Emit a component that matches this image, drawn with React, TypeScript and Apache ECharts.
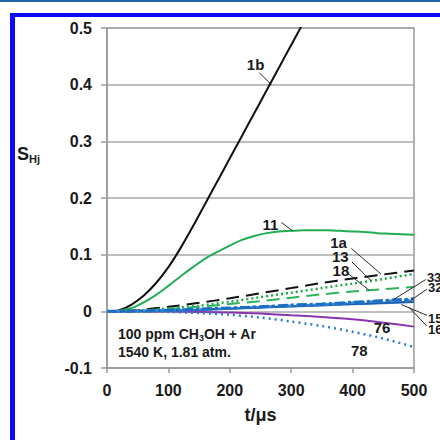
import React, { useEffect, useRef } from "react";
import * as echarts from "echarts";

// time axis (microseconds)
const T20 = [0, 20, 40, 60, 80, 100, 120, 140, 160, 180, 200, 220, 240, 260, 280, 300, 320, 340, 360, 380, 400, 420, 440, 460, 480, 500];
const T50 = [0, 50, 100, 150, 200, 250, 300, 350, 400, 450, 500];
const T1B = [0, 20, 40, 60, 80, 100, 120, 140, 160, 180, 200, 220, 240, 260, 280, 300, 320, 340];

// H-atom sensitivity coefficients
const s1b = [0, 0.002, 0.012, 0.028, 0.05, 0.078, 0.112, 0.15, 0.19, 0.23, 0.27, 0.31, 0.35, 0.39, 0.43, 0.47, 0.51, 0.55];
const s11 = [0, 0.001, 0.006, 0.016, 0.029, 0.045, 0.062, 0.078, 0.093, 0.105, 0.116, 0.126, 0.133, 0.138, 0.141, 0.142, 0.143, 0.143, 0.143, 0.142, 0.141, 0.140, 0.138, 0.137, 0.136, 0.135];
const s1a = [0, 0.002, 0.008, 0.015, 0.023, 0.032, 0.041, 0.050, 0.058, 0.065, 0.072];
const s13 = [0, 0.001, 0.005, 0.010, 0.017, 0.025, 0.033, 0.041, 0.049, 0.057, 0.066];
const s18 = [0, 0.001, 0.004, 0.008, 0.013, 0.018, 0.024, 0.030, 0.035, 0.039, 0.043];
const s33 = [0, 0.0005, 0.002, 0.004, 0.006, 0.008, 0.011, 0.013, 0.016, 0.019, 0.022];
const s32 = [0, 0.0005, 0.002, 0.003, 0.005, 0.008, 0.010, 0.012, 0.015, 0.018, 0.020];
const s15 = [0, 0.0005, 0.0015, 0.003, 0.005, 0.007, 0.009, 0.011, 0.013, 0.015, 0.017];
const s16 = [0, 0.0003, 0.001, 0.002, 0.004, 0.006, 0.008, 0.010, 0.012, 0.014, 0.016];
const s76 = [0, 0, -0.0005, -0.001, -0.002, -0.004, -0.007, -0.010, -0.014, -0.020, -0.027];
const s78 = [0, -0.0005, -0.001, -0.003, -0.006, -0.011, -0.018, -0.026, -0.036, -0.048, -0.063];

const xTicks = { min: 0, max: 500, step: 100 };
const yTicks = { min: -0.1, max: 0.5, step: 0.1 };

// curve labels: text anchor and leader line (data coordinates)
const curveLabels = [
  { text: "1b", at: [242, 0.436], align: "center", from: [248, 0.421], to: [268, 0.4] },
  { text: "11", at: [266, 0.153], align: "center", from: [284, 0.157], to: [302, 0.142] },
  { text: "1a", at: [377, 0.121], align: "center", from: [398, 0.111], to: [446, 0.066] },
  { text: "13", at: [380, 0.096], align: "center", from: [399, 0.087], to: [430, 0.054] },
  { text: "18", at: [381, 0.072], align: "center", from: [390, 0.069], to: [427, 0.037] },
  { text: "33", at: [521, 0.06], align: "left", from: [519, 0.056], to: [467, 0.021] },
  { text: "32", at: [523, 0.042], align: "left", from: [521, 0.039], to: [494, 0.019] },
  { text: "15", at: [523, -0.012], align: "left", from: [521, -0.007], to: [479, 0.012] },
  { text: "16", at: [523, -0.032], align: "left", from: [521, -0.026], to: [492, 0.007] },
  { text: "76", at: [448, -0.028], align: "center", from: null, to: null },
  { text: "78", at: [411, -0.069], align: "center", from: null, to: null },
] as const;

const FONT = "'Liberation Sans', Arial, sans-serif";
const INK = "#1a1a1a";

const pairs = (ts: number[], vs: number[]) => vs.map((v, i) => [ts[i], v]);

function line(name: string, ts: number[], vs: number[], color: string, width: number, dash: any, z = 2) {
  return {
    name,
    type: "line",
    data: pairs(ts, vs),
    smooth: 0.3,
    showSymbol: false,
    symbol: "none",
    clip: true,
    z,
    lineStyle: { color, width, type: dash, cap: "butt" },
  };
}

export default function App() {
  const ref = useRef<HTMLDivElement>(null);

  useEffect(() => {
    const chart = echarts.init(ref.current!, null, { renderer: "svg" });
    chart.setOption({
      animation: false,
      backgroundColor: "#ffffff",
      grid: {
        left: 107,
        right: 26,
        top: 28,
        bottom: 72,
        show: true,
        borderColor: "#9a9a9a",
        borderWidth: 1.5,
      },
      xAxis: {
        type: "value",
        min: xTicks.min,
        max: xTicks.max,
        interval: xTicks.step,
        name: "t/\u03bcs",
        nameLocation: "middle",
        nameGap: 38,
        nameTextStyle: { fontFamily: FONT, fontWeight: "bold", fontSize: 18, color: INK },
        axisLine: { onZero: false, lineStyle: { color: "#9a9a9a", width: 1.5 } },
        axisTick: { show: true, length: 5, lineStyle: { color: "#9a9a9a", width: 1.5 } },
        axisLabel: { fontFamily: FONT, fontWeight: "bold", fontSize: 16, color: INK, margin: 14 },
        splitLine: { show: false },
      },
      yAxis: {
        type: "value",
        min: yTicks.min,
        max: yTicks.max,
        interval: yTicks.step,
        axisLine: { show: true, lineStyle: { color: "#9a9a9a", width: 1.5 } },
        axisTick: { show: true, length: 6, lineStyle: { color: "#9a9a9a", width: 1.5 } },
        axisLabel: {
          fontFamily: FONT,
          fontWeight: "bold",
          fontSize: 16,
          color: INK,
          margin: 15,
          formatter: (v: number) => (Math.abs(v) < 1e-9 ? "0" : String(Math.round(v * 10) / 10)),
        },
        splitLine: { show: true, lineStyle: { color: "#a8a8a8", width: 1.5 } },
      },
      series: [
        line("1b", T1B, s1b, "#111111", 2, "solid"),
        line("11", T20, s11, "#22ad52", 2, "solid"),
        line("1a", T50, s1a, "#111111", 2, [13, 7]),
        line("13", T50, s13, "#22a84a", 2.5, [2, 3]),
        line("18", T50, s18, "#2db35a", 2, [13, 7]),
        line("76", T50, s76, "#8a35b0", 2, "solid"),
        line("78", T50, s78, "#2c7dd2", 2.5, [2, 4]),
        line("16", T50, s16, "#3a7bd5", 1.5, "solid", 3),
        line("15", T50, s15, "#1b5ea8", 2, "solid", 3),
        line("32", T50, s32, "#2f86d6", 2.5, [6, 3], 3),
        line("33", T50, s33, "#1d6fc6", 3, [10, 3, 3, 3], 3),
      ],
    });

    const toPx = (p: readonly number[]) => chart.convertToPixel({ gridIndex: 0 }, [p[0], p[1]]) as number[];

    const labelEls: any[] = [];
    curveLabels.forEach((l) => {
      const [x, y] = toPx(l.at);
      labelEls.push({
        type: "text",
        z: 50,
        x,
        y,
        style: {
          text: l.text,
          fill: INK,
          font: `bold ${l.align === "left" ? 13 : 15}px ${FONT}`,
          align: l.align,
          verticalAlign: "middle",
        },
      });
      if (l.from && l.to) {
        const [x1, y1] = toPx(l.from);
        const [x2, y2] = toPx(l.to);
        labelEls.push({
          type: "line",
          z: 49,
          shape: { x1, y1, x2, y2 },
          style: { stroke: "#2a2a2a", lineWidth: 1 },
        });
      }
    });

    chart.setOption({
      graphic: [
        // page frame
        { type: "rect", z: 100, shape: { x: 0, y: 0, width: 440, height: 2 }, style: { fill: "#2266aa" } },
        { type: "rect", z: 100, shape: { x: 10, y: 13, width: 430, height: 4 }, style: { fill: "#0a0aff" } },
        { type: "rect", z: 100, shape: { x: 10, y: 13, width: 5, height: 427 }, style: { fill: "#0a0aff" } },
        // y-axis title S_Hj
        {
          type: "text",
          z: 50,
          x: 17,
          y: 154,
          style: {
            text: "{s|S}{b|Hj}",
            verticalAlign: "middle",
            rich: {
              s: { font: `bold 18px ${FONT}`, fill: INK },
              b: { font: `bold 11px ${FONT}`, fill: INK, padding: [9, 0, 0, 0] },
            },
          },
        },
        // experimental conditions
        {
          type: "text",
          z: 50,
          x: 118,
          y: 334,
          style: {
            text: "{a|100 ppm CH}{s|3}{a|OH + Ar}",
            verticalAlign: "middle",
            rich: {
              a: { font: `bold 14px ${FONT}`, fill: INK },
              s: { font: `bold 9px ${FONT}`, fill: INK, padding: [8, 0, 0, 0] },
            },
          },
        },
        {
          type: "text",
          z: 50,
          x: 118,
          y: 352,
          style: { text: "1540 K, 1.81 atm.", font: `bold 14px ${FONT}`, fill: INK, verticalAlign: "middle" },
        },
        ...labelEls,
      ],
    });

    return () => chart.dispose();
  }, []);

  return <div ref={ref} style={{ position: "absolute", left: 0, top: 0, width: 440, height: 440 }} />;
}
